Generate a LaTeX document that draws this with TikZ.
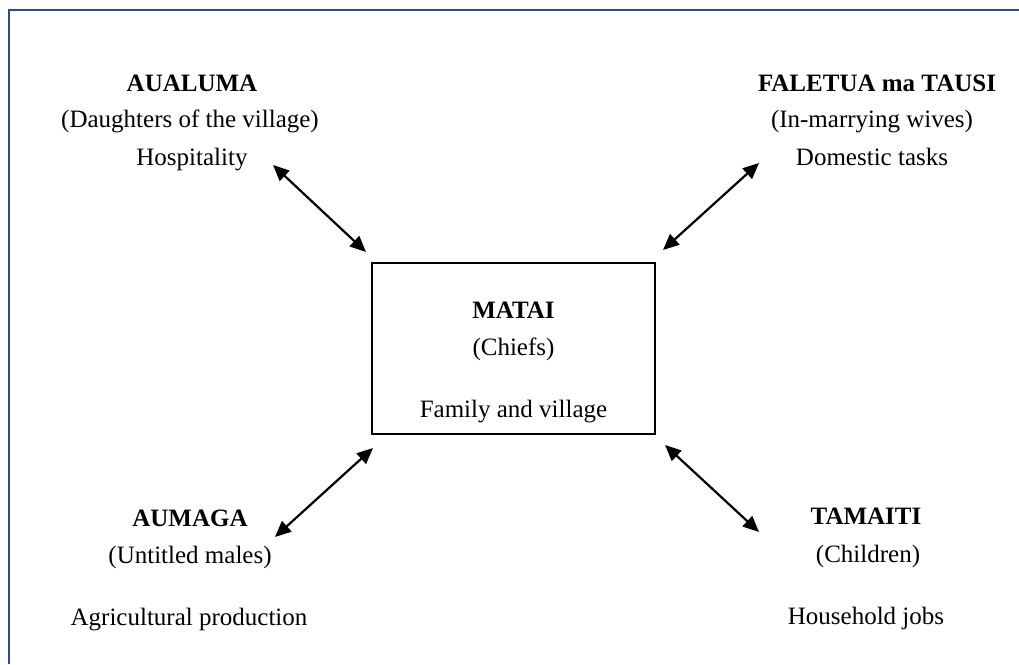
\documentclass[tikz,border=0pt]{standalone}
\usepackage{fontspec}
\setmainfont{Liberation Serif}
\usetikzlibrary{arrows.meta}
\definecolor{frameblue}{RGB}{47,75,140}
\begin{document}
\begin{tikzpicture}[x=1pt,y=-1pt,
  txt/.style={anchor=base,inner sep=0pt,font=\fontsize{25}{30}\selectfont},
  ttl/.style={anchor=base,inner sep=0pt,font=\fontsize{25}{30}\selectfont\bfseries},
  link/.style={line width=2.2pt,{Triangle[length=16pt,width=14pt]}-{Triangle[length=16pt,width=14pt]}},
  mbox/.style={draw,line width=1.6pt,minimum width=283pt,minimum height=171pt,inner sep=0pt}]
\useasboundingbox (0,0) rectangle (1019,664);
\draw[frameblue,line width=2.4pt] (9,664) -- (9,10) -- (1019,10);

% centre box
\node[mbox] (matai) at (513.5,348.5) {};
\node[ttl] (mataiT) at (513.5,318) {MATAI};
\node[txt] (mataiS) at (513.5,355) {(Chiefs)};
\node[txt] (mataiR) at (513.5,417) {Family and village};

% top left
\node[ttl] (aualT) at (192,91) {AUALUMA};
\node[txt] (aualS) at (190,127) {(Daughters of the village)};
\node[txt] (aualR) at (192,165) {Hospitality};

% top right
\node[ttl] (faleT) at (877,91) {FALETUA ma TAUSI};
\node[txt] (faleS) at (872,127) {(In-marrying wives)};
\node[txt] (faleR) at (872,165) {Domestic tasks};

% bottom left
\node[ttl] (aumaT) at (190,526) {AUMAGA};
\node[txt] (aumaS) at (190,563) {(Untitled males)};
\node[txt] (aumaR) at (189,625) {Agricultural production};

% bottom right
\node[ttl] (tamaT) at (866,524) {TAMAITI};
\node[txt] (tamaS) at (868,562) {(Children)};
\node[txt] (tamaR) at (866,624) {Household jobs};

% arrow ends
\coordinate (p1a) at (273,165); \coordinate (p1b) at (366,252);
\coordinate (p2a) at (759,163); \coordinate (p2b) at (663,250);
\coordinate (p3a) at (373,448); \coordinate (p3b) at (275,537);
\coordinate (p4a) at (665,445); \coordinate (p4b) at (759,532);
\draw[link] (p1a) -- (p1b);
\draw[link] (p2a) -- (p2b);
\draw[link] (p3a) -- (p3b);
\draw[link] (p4a) -- (p4b);
\end{tikzpicture}
\end{document}
